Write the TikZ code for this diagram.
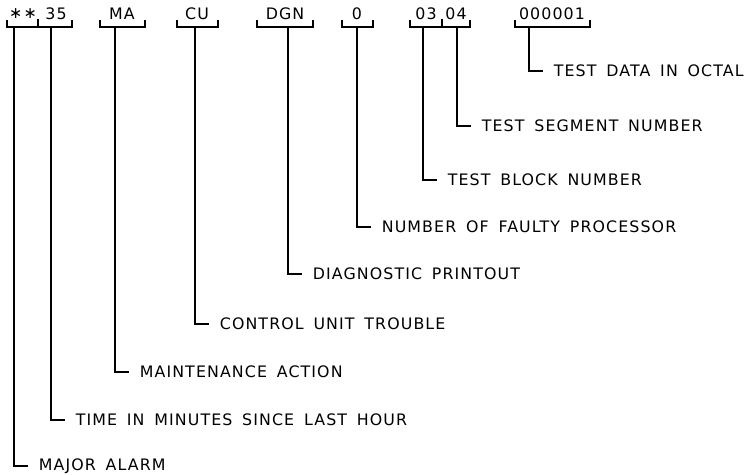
\documentclass[tikz,border=0pt]{standalone}
\usepackage{fontspec}
\newfontfamily\lettering{DejaVu Sans}[LetterSpace=7, WordSpace=1.6]
\usetikzlibrary{positioning}

\begin{document}
\begin{tikzpicture}[x=0.02cm, y=-0.02cm, line width=1pt,
  every node/.style={font=\lettering\fontsize{9}{10}\selectfont, inner sep=0pt},
  fld/.style={anchor=center},
  lbl/.style={anchor=west, inner xsep=0.2cm},
]
  \useasboundingbox (0,0) rectangle (750,474);
  % message fields
  \foreach \xn/\xx/\xtxt in {al/23/{∗∗}, mn/56/35, ma/122/MA, cu/197/CU, dg/285/DGN,
                             fp/357/0, bk/426/03, sg/456/04, dt/552/000001} {
    \node[fld] (F\xn) at (\xx,14) {\xtxt};
  }
  % brackets under the fields
  \draw (7,20) |- (72,27) -- (72,20);
  \draw (38,19) -- (38,27);
  \draw (410,20) |- (470,27) -- (470,20);
  \draw (442,19) -- (442,27);
  \foreach \xa/\xb in {100/145, 177/218, 257/313, 342/373, 515/590}
    \draw (\xa,20) |- (\xb,27) -- (\xb,20);
  % leaders and meanings
  \foreach \xn/\xx/\xy/\xtxt in {%
    al/14/466/{MAJOR ALARM},%
    mn/51/420/{TIME IN MINUTES SINCE LAST HOUR},%
    ma/115/372/{MAINTENANCE ACTION},%
    cu/195/324/{CONTROL UNIT TROUBLE},%
    dg/288/274/{DIAGNOSTIC PRINTOUT},%
    fp/357/227/{NUMBER OF FAULTY PROCESSOR},%
    bk/423/180/{TEST BLOCK NUMBER},%
    sg/457/126/{TEST SEGMENT NUMBER},%
    dt/529/71/{TEST DATA IN OCTAL}%
  } {
    \coordinate (D\xn) at (\xx,27);
    \node[lbl] (L\xn) at (\xx+14,\xy) {\xtxt};
    \draw (D\xn) |- (L\xn.west);
  }
\end{tikzpicture}
\end{document}
